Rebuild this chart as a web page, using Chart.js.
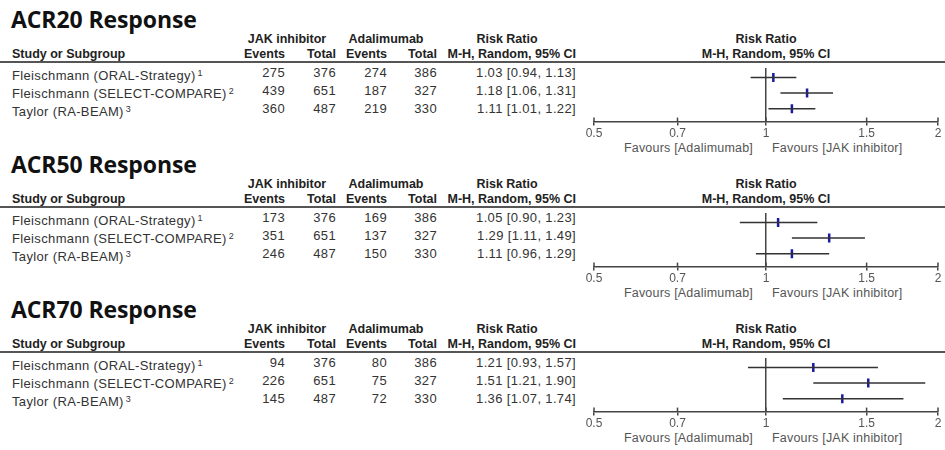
<!DOCTYPE html>
<html>
<head>
<meta charset="utf-8">
<script src="https://cdn.jsdelivr.net/npm/chart.js@4"></script>
<style>
  body { margin: 0; background: #fff; width: 945px; height: 450px; position: relative; overflow: hidden;
         font-family: Arial, "Liberation Sans", sans-serif; }
  .t { position: absolute; white-space: nowrap; line-height: 16px; height: 16px; color: #333;
       font-size: 13px; letter-spacing: 0.35px; }
  .h { font-weight: bold; font-size: 12.5px; letter-spacing: 0; color: #222; }
  .fav { color: #555; font-size: 12.5px; letter-spacing: 0.2px; }
  .title { position: absolute; font-family: "Open Sans"; font-weight: 700; font-size: 23px; color: #111;
           line-height: 28px; white-space: nowrap; letter-spacing: -0.1px; }
  .rule { position: absolute; left: 0; width: 945px; height: 2px; background: #555; }
  .plot { position: absolute; left: 580px; }
  sup { font-size: 9px; vertical-align: 4px; margin-left: 2px; letter-spacing: 0; }
</style>
</head>
<body>
<script>
// data
const panelTitles = ['ACR20 Response', 'ACR50 Response', 'ACR70 Response'];
const studies = ['Fleischmann (ORAL-Strategy)', 'Fleischmann (SELECT-COMPARE)', 'Taylor (RA-BEAM)'];
const refs = ['1', '2', '3'];
const jakTotal = [376, 651, 487];
const adaTotal = [386, 327, 330];

const acr20Jak = [275, 439, 360];
const acr20Ada = [274, 187, 219];
const acr20RR = [1.03, 1.18, 1.11];
const acr20Lo = [0.94, 1.06, 1.01];
const acr20Hi = [1.13, 1.31, 1.22];

const acr50Jak = [173, 351, 246];
const acr50Ada = [169, 137, 150];
const acr50RR = [1.05, 1.29, 1.11];
const acr50Lo = [0.90, 1.11, 0.96];
const acr50Hi = [1.23, 1.49, 1.29];

const acr70Jak = [94, 226, 145];
const acr70Ada = [80, 75, 72];
const acr70RR = [1.21, 1.51, 1.36];
const acr70Lo = [0.93, 1.21, 1.07];
const acr70Hi = [1.57, 1.90, 1.74];

const axisTicks = [0.5, 0.7, 1, 1.5, 2];

const panels = [
    { title: panelTitles[0], jak: acr20Jak, ada: acr20Ada, rr: acr20RR, lo: acr20Lo, hi: acr20Hi },
    { title: panelTitles[1], jak: acr50Jak, ada: acr50Ada, rr: acr50RR, lo: acr50Lo, hi: acr50Hi },
    { title: panelTitles[2], jak: acr70Jak, ada: acr70Ada, rr: acr70RR, lo: acr70Lo, hi: acr70Hi }
];

function place(html, x, y, align, cls) {
    const el = document.createElement('div');
    el.className = 't ' + (cls || '');
    el.innerHTML = html;
    el.style.top = (y - 8) + 'px';
    if (align === 'right') {
        el.style.right = (945 - x) + 'px';
    } else if (align === 'center') {
        el.style.left = x + 'px';
        el.style.transform = 'translateX(-50%)';
    } else {
        el.style.left = x + 'px';
    }
    document.body.appendChild(el);
}

// small "+" crosses on the axis ticks
const crossTicks = {
    id: 'crossTicks',
    afterDraw(chart) {
        const ctx = chart.ctx;
        const x = chart.scales.x;
        const bottom = chart.chartArea.bottom;
        ctx.save();
        ctx.strokeStyle = '#444';
        ctx.lineWidth = 1.5;
        x.ticks.forEach(t => {
            const px = x.getPixelForValue(t.value);
            ctx.beginPath();
            ctx.moveTo(px, bottom - 4);
            ctx.lineTo(px, bottom);
            ctx.stroke();
        });
        ctx.restore();
    }
};

function fmt(v) { return v.toFixed(2); }

panels.forEach((p, k) => {
    const top = k * 145;

    const title = document.createElement('div');
    title.className = 'title';
    title.textContent = p.title;
    title.style.left = '11px';
    title.style.top = (top + 5) + 'px';
    document.body.appendChild(title);

    // header rows
    place('JAK inhibitor', 287, top + 38.5, 'center', 'h');
    place('Adalimumab', 386, top + 38.5, 'center', 'h');
    place('Risk Ratio', 507, top + 38.5, 'center', 'h');
    place('Risk Ratio', 766, top + 38.5, 'center', 'h');
    place('Study or Subgroup', 12, top + 54, 'left', 'h');
    place('Events', 285, top + 54, 'right', 'h');
    place('Total', 336, top + 54, 'right', 'h');
    place('Events', 387, top + 54, 'right', 'h');
    place('Total', 437, top + 54, 'right', 'h');
    place('M-H, Random, 95% CI', 576, top + 54, 'right', 'h');
    place('M-H, Random, 95% CI', 766, top + 54, 'center', 'h');

    const rule = document.createElement('div');
    rule.className = 'rule';
    rule.style.top = (top + 60.5) + 'px';
    document.body.appendChild(rule);

    // study rows
    studies.forEach((s, i) => {
        const y = top + 72.5 + i * 18;
        place(s + '<sup>' + refs[i] + '</sup>', 12, y, 'left');
        place(String(p.jak[i]), 285, y, 'right');
        place(String(jakTotal[i]), 336, y, 'right');
        place(String(p.ada[i]), 387, y, 'right');
        place(String(adaTotal[i]), 437, y, 'right');
        place(fmt(p.rr[i]) + ' [' + fmt(p.lo[i]) + ', ' + fmt(p.hi[i]) + ']', 576, y, 'right');
    });

    place('Favours [Adalimumab]', 753, top + 148, 'right', 'fav');
    place('Favours [JAK inhibitor]', 772, top + 148, 'left', 'fav');

    // forest plot
    const canvas = document.createElement('canvas');
    canvas.className = 'plot';
    canvas.width = 365;
    canvas.height = 81;
    canvas.style.top = (top + 61) + 'px';
    document.body.appendChild(canvas);

    const ciSets = studies.map((s, i) => ({
        type: 'line',
        data: [{ x: p.lo[i], y: i + 1 }, { x: p.hi[i], y: i + 1 }],
        borderColor: '#333',
        borderWidth: 1.5,
        pointRadius: 0
    }));
    const pointSet = {
        type: 'scatter',
        data: p.rr.map((v, i) => ({ x: v, y: i + 1 })),
        pointStyle: 'line',
        rotation: 90,
        radius: 4.5,
        borderWidth: 2.5,
        borderColor: '#1a1aa0',
        backgroundColor: '#1a1aa0'
    };

    new Chart(canvas, {
        type: 'scatter',
        data: { datasets: ciSets.concat([pointSet]) },
        options: {
            responsive: false,
            animation: false,
            layout: { padding: { left: 14, right: 5, top: 0, bottom: 0 } },
            plugins: { legend: { display: false }, tooltip: { enabled: false } },
            scales: {
                x: {
                    type: 'logarithmic',
                    min: 0.5,
                    max: 2,
                    afterBuildTicks: scale => { scale.ticks = axisTicks.map(v => ({ value: v })); },
                    ticks: {
                        callback: v => String(v),
                        color: '#555',
                        font: { family: 'Arial, "Liberation Sans", sans-serif', size: 12 },
                        padding: 1,
                        maxRotation: 0,
                        autoSkip: false
                    },
                    grid: {
                        color: c => (c.tick && c.tick.value === 1) ? '#444' : 'rgba(0,0,0,0)',
                        lineWidth: 1.5,
                        tickColor: '#444',
                        tickLength: 4
                    },
                    border: { color: '#444', width: 1.5 }
                },
                y: { type: 'linear', min: 0.39, max: 3.83, reverse: true, display: false }
            }
        },
        plugins: [crossTicks]
    });
});
</script>
</body>
</html>
